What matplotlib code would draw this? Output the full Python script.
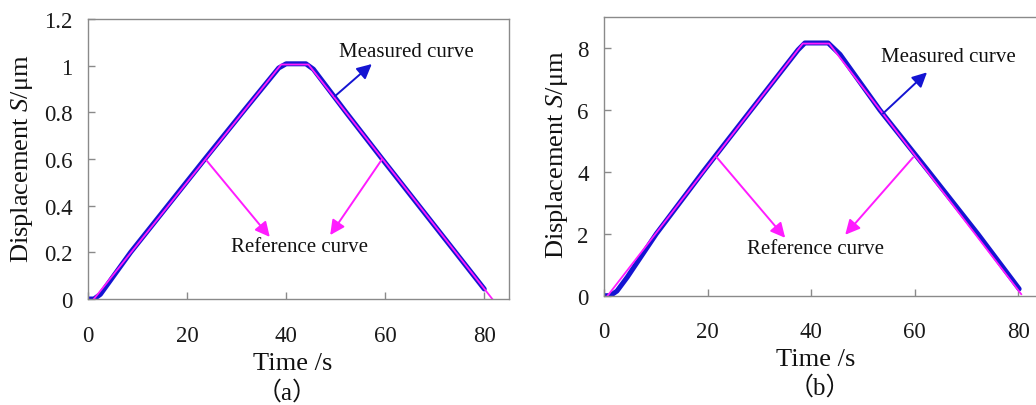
import matplotlib
matplotlib.use("Agg")
import matplotlib.pyplot as plt
from matplotlib.ticker import FuncFormatter

plt.rcParams['font.family'] = ['Liberation Serif', 'Noto Sans CJK TC', 'DejaVu Sans']
plt.rcParams['mathtext.fontset'] = 'custom'
plt.rcParams['mathtext.it'] = 'Liberation Serif:italic'
plt.rcParams['mathtext.rm'] = 'Liberation Serif'

# ---- data: panel (a) ----
t_meas_a = [0, 1.2, 2.5, 8.6, 16.1, 23.6, 31.2, 38.5, 40, 44, 45.5, 52.1, 59.4, 66.8, 74.2, 80]
s_meas_a = [0, 0, 0.02, 0.2, 0.4, 0.6, 0.8, 0.99, 1.008, 1.008, 0.985, 0.8, 0.6, 0.4, 0.2, 0.043]
t_ref_a = [1, 39, 44.5, 82]
s_ref_a = [-0.005, 1.005, 1.005, -0.01]
yticks_a = [0, 0.2, 0.4, 0.6, 0.8, 1.0, 1.2]

# ---- data: panel (b) ----
t_meas_b = [0, 1.2, 2.5, 4.5, 10.1, 19.1, 28.4, 37.5, 38.8, 43.3, 45.6, 53.3, 62.8, 72.2, 80.2]
s_meas_b = [0, 0, 0.15, 0.6, 2, 4, 6, 7.95, 8.17, 8.17, 7.8, 6, 4, 2, 0.22]
t_ref_b = [0.7, 38.4, 43.5, 80.6]
s_ref_b = [0, 8.15, 8.15, 0.05]
yticks_b = [0, 2, 4, 6, 8]

xticks = [0, 20, 40, 60, 80]

BLUE = '#1414d2'
MAG = '#ff1cff'
GRAY = '#8a8a8a'

fig = plt.figure(figsize=(10.36, 4.06), dpi=100)
axA = fig.add_axes([88/1036, 1-300/406, 421/1036, 280/406])
axB = fig.add_axes([604/1036, 1-296.7/406, 440/1036, 278.4/406])

def style(ax, ylim, yticks):
    ax.set_xlim(0, 85)
    ax.set_ylim(*ylim)
    ax.set_xticks(xticks)
    ax.set_yticks(yticks)
    ax.yaxis.set_major_formatter(FuncFormatter(lambda v, p: f'{v:g}'))
    for sp in ax.spines.values():
        sp.set_color(GRAY)
        sp.set_linewidth(1.0)
    ax.tick_params(direction='in', length=5, width=1, color=GRAY,
                   labelsize=16.5, labelcolor='#1a1a1a')
    ax.tick_params(axis='x', pad=18.5)
    ax.tick_params(axis='y', pad=11)

for ax, tm, sm, tr, sr, ylim, yt in [
        (axA, t_meas_a, s_meas_a, t_ref_a, s_ref_a, (0, 1.2), yticks_a),
        (axB, t_meas_b, s_meas_b, t_ref_b, s_ref_b, (0, 9), yticks_b)]:
    ax.plot(tm, sm, color=BLUE, lw=3.6, solid_joinstyle='round', solid_capstyle='round')
    ax.plot(tr, sr, color=MAG, lw=1.3)
    style(ax, ylim, yt)
    ax.set_xlabel('Time /s', fontsize=19, color='#111111')
    ax.set_ylabel('Displacement $S$/μm', fontsize=19, color='#111111')
    ax.xaxis.label.set_va('center')
    ax.yaxis.label.set_va('center')

axA.xaxis.set_label_coords(0.487, -0.228)
axA.yaxis.set_label_coords(-0.157, 0.504)
axB.xaxis.set_label_coords(0.48, -0.228)
axB.yaxis.set_label_coords(-0.107, 0.509)

def arrow(ax, start, end, color):
    ax.annotate('', xy=end, xytext=start,
                arrowprops=dict(arrowstyle='-|>', color=color, lw=1.4,
                                mutation_scale=22, shrinkA=0, shrinkB=0))

# panel (a) annotations
arrow(axA, (49.9, 0.870), (57.3, 1.007), BLUE)
arrow(axA, (24.0, 0.592), (36.7, 0.266), MAG)
arrow(axA, (59.4, 0.600), (48.9, 0.274), MAG)
axA.text(64.2, 1.059, 'Measured curve', fontsize=15, ha='center', va='center', color='#111111')
axA.text(42.8, 0.223, 'Reference curve', fontsize=15, ha='center', va='center', color='#111111')

# panel (b) annotations
arrow(axB, (53.9, 5.89), (62.4, 7.22), BLUE)
arrow(axB, (21.8, 4.47), (35.0, 1.87), MAG)
arrow(axB, (59.7, 4.47), (46.6, 1.97), MAG)
axB.text(66.5, 7.74, 'Measured curve', fontsize=15, ha='center', va='center', color='#111111')
axB.text(40.8, 1.51, 'Reference curve', fontsize=15, ha='center', va='center', color='#111111')

fig.text(287/1036, 1-393/406, '（a）', fontsize=18, ha='center', va='center', color='#111111')
fig.text(820/1036, 1-388/406, '（b）', fontsize=18, ha='center', va='center', color='#111111')

fig.savefig('out.png', dpi=100)
